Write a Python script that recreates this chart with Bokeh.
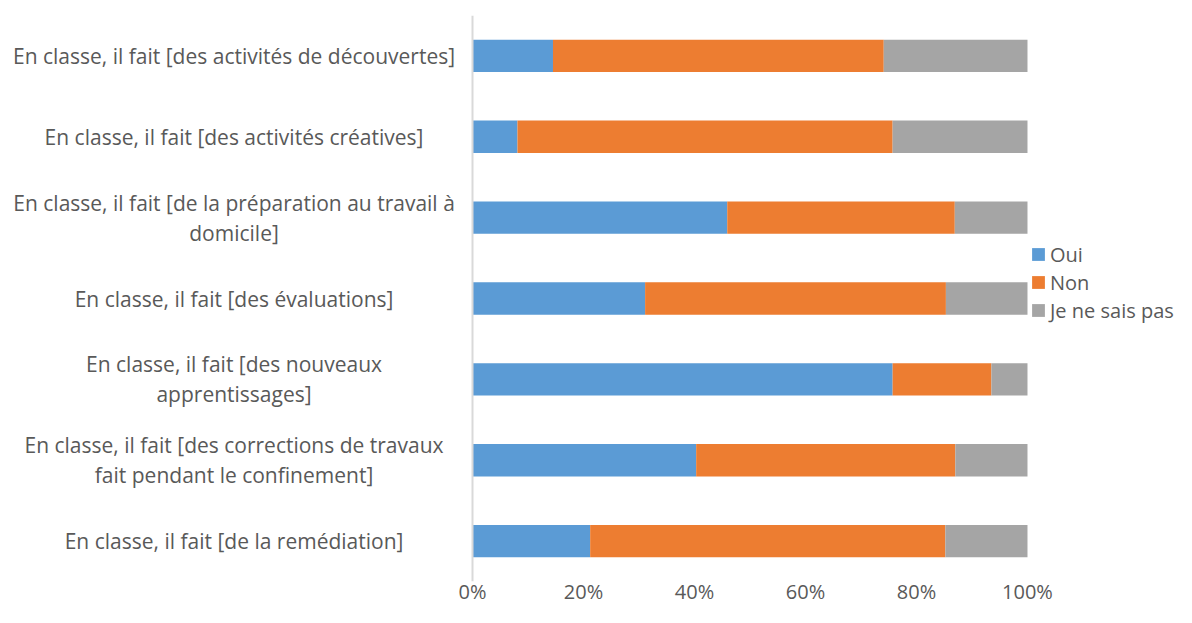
from bokeh.plotting import figure
from bokeh.models import ColumnDataSource, FactorRange, Range1d, Span, FixedTicker, NumeralTickFormatter
from bokeh.core.properties import value
from bokeh.embed import file_html
from bokeh.resources import INLINE

# ---- data (top to bottom as shown) ----
categories = [
    "En classe, il fait [des activités de découvertes]",
    "En classe, il fait [des activités créatives]",
    "En classe, il fait [de la préparation au travail à\ndomicile]",
    "En classe, il fait [des évaluations]",
    "En classe, il fait [des nouveaux\napprentissages]",
    "En classe, il fait [des corrections de travaux\nfait pendant le confinement]",
    "En classe, il fait [de la remédiation]",
]
oui = [0.145, 0.081, 0.459, 0.311, 0.757, 0.403, 0.212]
non = [0.596, 0.676, 0.410, 0.542, 0.178, 0.467, 0.640]
nsp = [0.259, 0.243, 0.131, 0.147, 0.065, 0.130, 0.148]
series_labels = ["Oui", "Non", "Je ne sais pas"]
series_colors = ["#5B9BD5", "#ED7D31", "#A5A5A5"]
tick_values = [0, 0.2, 0.4, 0.6, 0.8, 1.0]

FONT = "Open Sans"
TXT = "#595959"

source = ColumnDataSource(dict(cat=categories, oui=oui, non=non, nsp=nsp))

p = figure(
    width=1176, height=607,
    x_range=Range1d(-0.8505, 1.2685),
    y_range=FactorRange(factors=list(reversed(categories)), range_padding=0),
    output_backend="svg", toolbar_location=None,
    y_axis_location=None,
    min_border_left=0, min_border_right=0, min_border_top=15, min_border_bottom=0,
    outline_line_color=None,
)
p.xgrid.visible = False
p.ygrid.visible = False

p.hbar_stack(["oui", "non", "nsp"], y="cat", height=0.4, color=series_colors,
             line_color=None, source=source, legend_label=series_labels)

# category labels (left of the value axis)
lab_src = ColumnDataSource(dict(x=[-0.4297] * len(categories), y=categories, t=categories))
p.text(x="x", y="y", text="t", source=lab_src, text_align="center", text_baseline="middle",
       text_font=value(FONT), text_font_size="21px", text_color=TXT, text_line_height=1.07)

# vertical value-axis line at 0
p.add_layout(Span(location=0, dimension="height", line_color="#D9D9D9", line_width=2))

ax = p.xaxis[0]
ax.ticker = FixedTicker(ticks=tick_values)
ax.formatter = NumeralTickFormatter(format="0%")
ax.axis_line_color = None
ax.major_tick_line_color = None
ax.minor_tick_line_color = None
ax.major_tick_out = 0
ax.major_tick_in = 0
ax.major_label_standoff = -4
ax.major_label_text_font = FONT
ax.major_label_text_font_size = "20px"
ax.major_label_text_color = TXT

lg = p.legend[0]
lg.location = (1030, 257)
lg.orientation = "vertical"
lg.border_line_color = None
lg.background_fill_alpha = 0
lg.padding = 0
lg.margin = 0
lg.spacing = 0
lg.glyph_width = 16
lg.glyph_height = 16
lg.label_height = 28
lg.label_standoff = 4
lg.label_text_font = FONT
lg.label_text_font_size = "20px"
lg.label_text_color = TXT

open("out.html", "w").write(file_html(p, INLINE))
